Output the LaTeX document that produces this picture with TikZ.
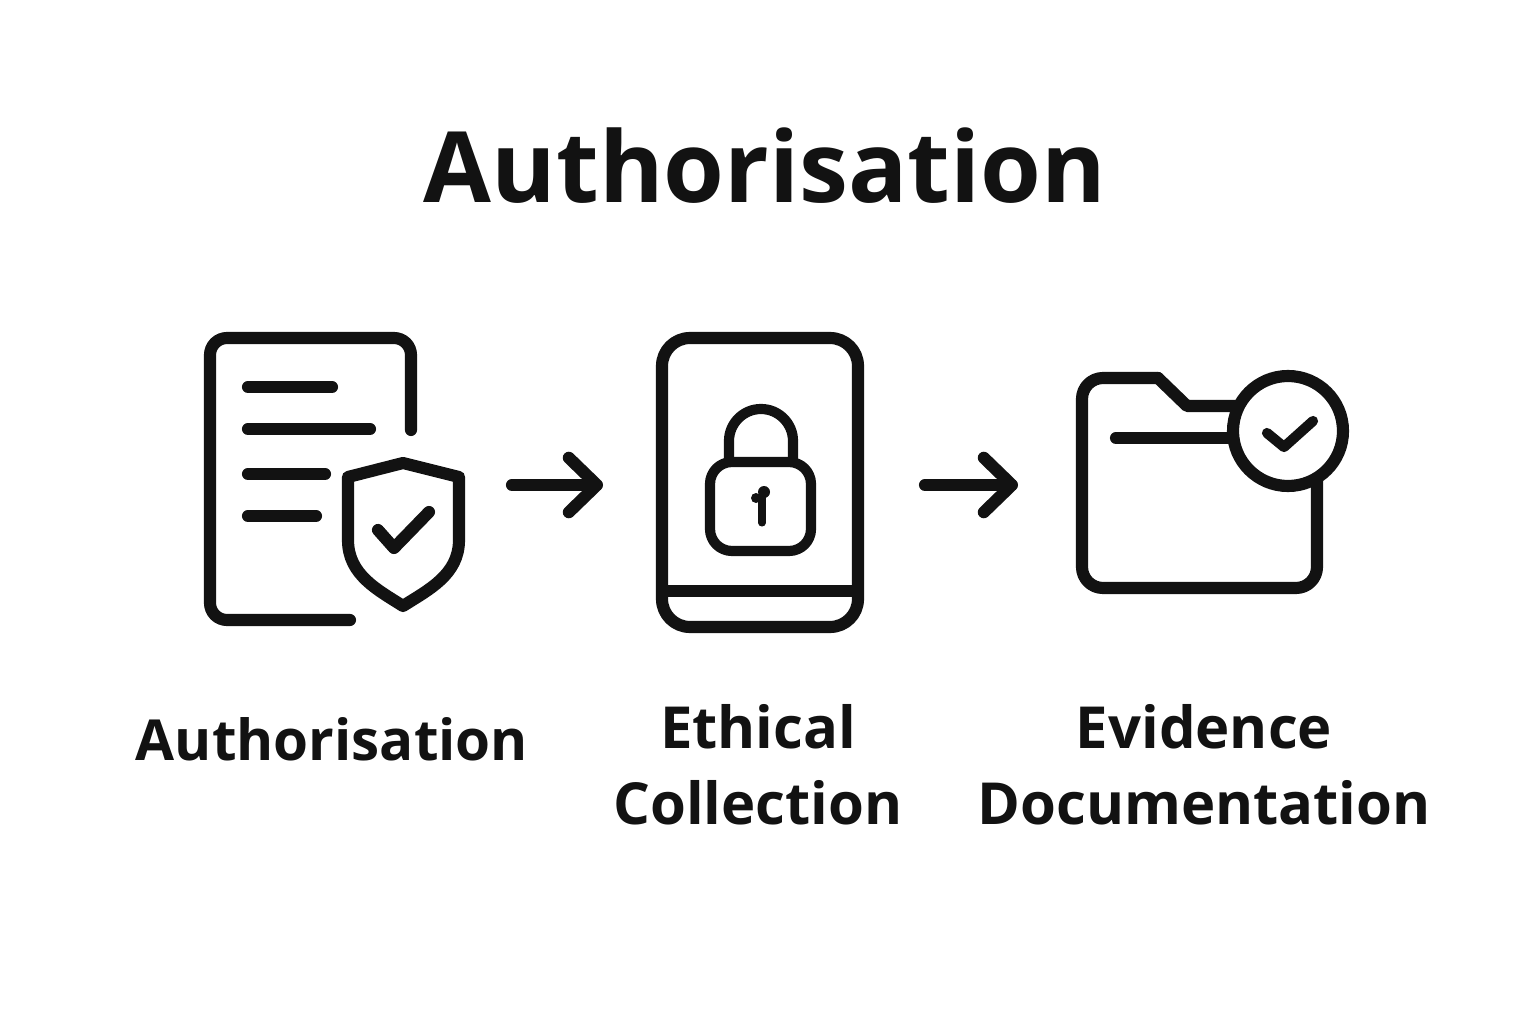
\documentclass[tikz,border=0pt]{standalone}
\usepackage{fontspec}
\setmainfont{Open Sans}
\usetikzlibrary{arrows.meta,positioning}
\definecolor{inkc}{HTML}{121212}

\begin{document}
\begin{tikzpicture}[x=0.02cm,y=-0.02cm,
	iconline/.style={draw=inkc,line width=6.9pt,line cap=round,line join=round},
	thinline/.style={draw=inkc,line width=5.8pt,line cap=round,line join=round},
	flowarrow/.style={iconline,-{Straight Barb[length=16pt,width=31pt,round]}},
	labeltext/.style={text=inkc,align=center,inner sep=0pt,font=\bfseries\fontsize{33pt}{43pt}\selectfont}
	]

	\useasboundingbox (0,0) rectangle (1536,1024);

	\node[text=inkc,inner sep=0pt,font=\bfseries\fontsize{56pt}{70pt}\selectfont] (title) at (765,166) {Authorisation};

	% document with shield
	\draw[iconline,rounded corners=0.34cm] (411,430) -- (411,338) -- (210,338) -- (210,620) -- (350,620);
	\draw[iconline] (248,387) -- (332,387);
	\draw[iconline] (248,429) -- (370,429);
	\draw[iconline] (248,474) -- (325,474);
	\draw[iconline] (248,516) -- (316,516);
	\draw[iconline] (403,606) .. controls (378,590) and (348,575) .. (348,540) -- (348,477) -- (403,463) -- (459,477) -- (459,540) .. controls (459,575) and (428,590) .. (403,606) -- cycle;
	\draw[iconline] (378,530) -- (394,548) -- (429,512);

	% tablet with padlock
	\draw[iconline,rounded corners=0.56cm] (662,338) rectangle (858,627);
	\draw[iconline,line cap=butt] (662,591) -- (858,591);
	\draw[thinline,rounded corners=0.44cm] (710,462) rectangle (811,551);
	\draw[thinline] (729,462) -- (729,441) arc[start angle=180,end angle=360,radius=32] -- (793,462);
	\draw[draw=inkc,line width=4pt,line cap=round] (762,497) -- (762,523);
	\fill[inkc] (764,492) circle (6);
	\fill[inkc] (756,498) circle (5);

	% folder with badge
	\draw[iconline,rounded corners=0.42cm] (1317,470) -- (1317,588) -- (1082,588) -- (1082,378) -- (1158,378);
	\draw[iconline] (1158,378) -- (1187,406) -- (1240,406);
	\draw[iconline] (1116,438) -- (1235,438);
	\node[circle,draw=inkc,fill=white,line width=6.9pt,inner sep=0pt,minimum size=110*0.02cm] (badge) at (1288,431) {};
	\draw[thinline] (1267,433) -- (1284,447) -- (1313,421);

	\coordinate (arrowa) at (512,485);
	\coordinate (arrowb) at (603,485);
	\coordinate (arrowc) at (925,485);
	\coordinate (arrowd) at (1018,485);
	\draw[flowarrow] (arrowa) -- (arrowb);
	\draw[flowarrow] (arrowc) -- (arrowd);

	\node[labeltext,font=\bfseries\fontsize{32.2pt}{43pt}\selectfont] (lblauth) at (332,739) {Authorisation};
	\node[labeltext] (lblethic) at (758,765) {Ethical\\Collection};
	\node[labeltext] (lbldoc) at (1204,765) {Evidence\\Documentation};

\end{tikzpicture}
\end{document}
